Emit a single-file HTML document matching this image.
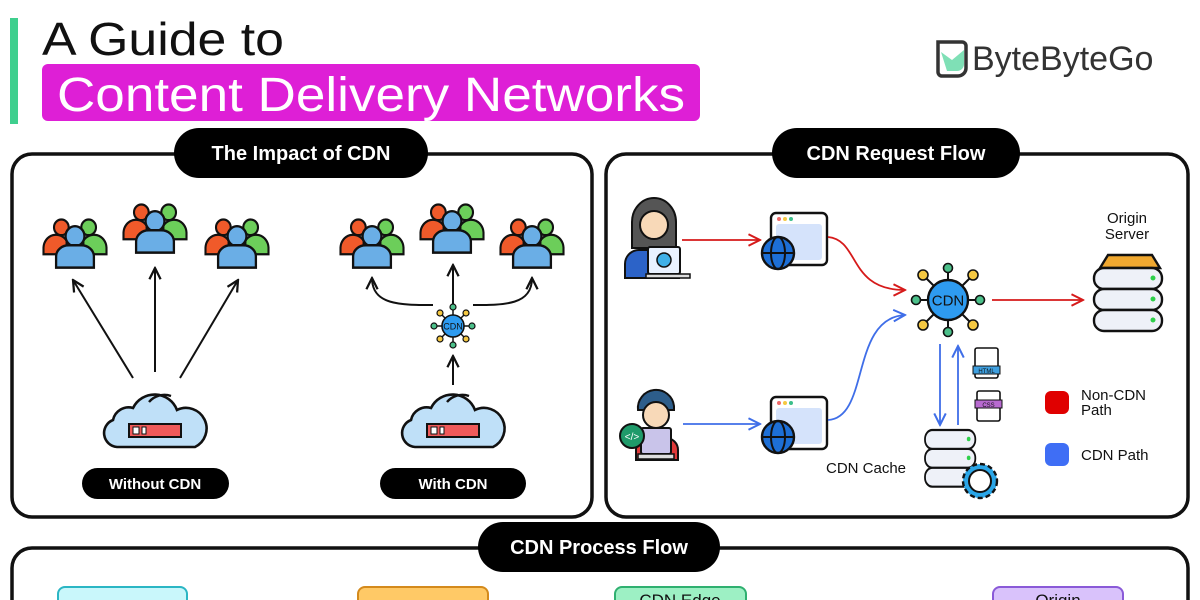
<!DOCTYPE html>
<html><head><meta charset="utf-8"><style>
html,body{margin:0;padding:0;background:#fff;}
svg{display:block;font-family:"Liberation Sans",sans-serif;}
</style></head><body>
<svg width="1200" height="600" viewBox="0 0 1200 600" xmlns="http://www.w3.org/2000/svg">
<defs>
<marker id="ak" viewBox="0 0 10 10" refX="9" refY="5" markerWidth="7" markerHeight="7" orient="auto"><path d="M1,1 L9,5 L1,9" fill="none" stroke="#111" stroke-width="1.6"/></marker>
<marker id="ar" viewBox="0 0 10 10" refX="9" refY="5" markerWidth="8" markerHeight="8" orient="auto"><path d="M1,1 L9,5 L1,9" fill="none" stroke="#d61a1a" stroke-width="1.4"/></marker>
<marker id="ab" viewBox="0 0 10 10" refX="9" refY="5" markerWidth="8" markerHeight="8" orient="auto"><path d="M1,1 L9,5 L1,9" fill="none" stroke="#3f6ee8" stroke-width="1.4"/></marker>
<g id="people0">
<circle cx="-13" cy="-14" r="7" fill="#f05a2a" stroke="#111" stroke-width="2"/>
<circle cx="13" cy="-14" r="7" fill="#6cce5a" stroke="#111" stroke-width="2"/>
<path d="M-30,10 v-6 a12,12 0 0 1 22,-6 v12z" fill="#f05a2a" stroke="#111" stroke-width="2"/>
<path d="M30,10 v-6 a12,12 0 0 0 -22,-6 v12z" fill="#6cce5a" stroke="#111" stroke-width="2"/>
<circle cx="0" cy="-6" r="9" fill="#6aaee6" stroke="#111" stroke-width="2.2"/>
<path d="M-18,22 v-10 a12,10 0 0 1 12,-10 h12 a12,10 0 0 1 12,10 v10z" fill="#6aaee6" stroke="#111" stroke-width="2.2"/>
</g>
<g id="people"><g transform="scale(1.05,1.12)"><use href="#people0"/></g></g>
<g id="cloud">
<path d="M-38,25 a14,14 0 0 1 -4,-27 a16,16 0 0 1 20,-12 a24,24 0 0 1 44,2 a18,18 0 0 1 18,37z" fill="#bfe0f8" stroke="#111" stroke-width="2.6"/>
<path d="M-6,-20 a20,20 0 0 1 22,-6" fill="none" stroke="#111" stroke-width="2.4"/>
<rect x="-26" y="2" width="52" height="13" fill="#f05a5a" stroke="#111" stroke-width="2"/>
<rect x="-22" y="5" width="6" height="7" fill="#fff" stroke="#111" stroke-width="1"/>
<rect x="-13" y="5" width="4" height="7" fill="#fff" stroke="#111" stroke-width="1"/>
</g>
<g id="hubS">
<g stroke="#111" stroke-width="1.5">
<line x1="0" y1="0" x2="0" y2="-19"/><line x1="0" y1="0" x2="0" y2="19"/><line x1="0" y1="0" x2="-19" y2="0"/><line x1="0" y1="0" x2="19" y2="0"/>
<line x1="0" y1="0" x2="-13" y2="-13"/><line x1="0" y1="0" x2="13" y2="-13"/><line x1="0" y1="0" x2="-13" y2="13"/><line x1="0" y1="0" x2="13" y2="13"/></g>
<g stroke="#111" stroke-width="1.2">
<circle cx="0" cy="-19" r="3" fill="#4cc08a"/><circle cx="0" cy="19" r="3" fill="#4cc08a"/><circle cx="-19" cy="0" r="3" fill="#4cc08a"/><circle cx="19" cy="0" r="3" fill="#4cc08a"/>
<circle cx="-13" cy="-13" r="3" fill="#f5c842"/><circle cx="13" cy="-13" r="3" fill="#f5c842"/><circle cx="-13" cy="13" r="3" fill="#f5c842"/><circle cx="13" cy="13" r="3" fill="#f5c842"/></g>
<circle r="11" fill="#2e9bf0" stroke="#111" stroke-width="1.6"/>
<text y="3.5" text-anchor="middle" font-size="9" fill="#111">CDN</text>
</g>
<g id="browser">
<rect x="0" y="0" width="56" height="52" rx="5" fill="#fff" stroke="#111" stroke-width="2.4"/>
<rect x="5" y="11" width="46" height="36" rx="3" fill="#d5e3fb"/>
<circle cx="8" cy="6" r="2" fill="#f06a6a"/><circle cx="14" cy="6" r="2" fill="#f5c842"/><circle cx="20" cy="6" r="2" fill="#3cbf8a"/>
<circle cx="7" cy="40" r="16" fill="#1d6fd6" stroke="#111" stroke-width="2.4"/>
<ellipse cx="7" cy="40" rx="7" ry="16" fill="none" stroke="#111" stroke-width="2"/>
<line x1="-9" y1="40" x2="23" y2="40" stroke="#111" stroke-width="2"/>
</g>
<g id="server">
<rect x="0" y="0" width="68" height="21" rx="10" fill="#eef1f8" stroke="#111" stroke-width="2.4"/>
<rect x="0" y="21" width="68" height="21" rx="10" fill="#eef1f8" stroke="#111" stroke-width="2.4"/>
<rect x="0" y="42" width="68" height="21" rx="10" fill="#eef1f8" stroke="#111" stroke-width="2.4"/>
<circle cx="59" cy="10" r="2.5" fill="#2ed04a"/><circle cx="59" cy="31" r="2.5" fill="#2ed04a"/><circle cx="59" cy="52" r="2.5" fill="#2ed04a"/>
</g>
</defs>

<!-- header -->
<rect x="10" y="18" width="8" height="106" fill="#3fcf8e"/>
<text x="42" y="55" font-size="46" fill="#111" textLength="242" lengthAdjust="spacingAndGlyphs">A Guide to</text>
<rect x="42" y="64" width="658" height="57" rx="6" fill="#de1fd6"/>
<text x="57" y="111" font-size="48" fill="#fff" textLength="628" lengthAdjust="spacingAndGlyphs">Content Delivery Networks</text>
<!-- logo -->
<path d="M938,42 h24 a4,4 0 0 1 4,4 v22 a8,8 0 0 1 -8,8 h-16 a4,4 0 0 1 -4,-4 z" fill="#fff" stroke="#333" stroke-width="3.5"/>
<path d="M941,52 l11,8 l12,-10 v14 a7,7 0 0 1 -7,7 h-10 z" fill="#7fe0b6"/>
<text x="972" y="70" font-size="34" fill="#333">ByteByteGo</text>

<!-- panels -->
<rect x="12" y="154" width="580" height="363" rx="20" fill="none" stroke="#111" stroke-width="3.5"/>
<rect x="606" y="154" width="582" height="363" rx="20" fill="none" stroke="#111" stroke-width="3.5"/>
<rect x="12" y="548" width="1176" height="80" rx="20" fill="none" stroke="#111" stroke-width="3.5"/>
<rect x="174" y="128" width="254" height="50" rx="25" fill="#000"/>
<text x="301" y="160" font-size="20" font-weight="bold" fill="#fff" text-anchor="middle">The Impact of CDN</text>
<rect x="772" y="128" width="248" height="50" rx="25" fill="#000"/>
<text x="896" y="160" font-size="20" font-weight="bold" fill="#fff" text-anchor="middle">CDN Request Flow</text>
<rect x="478" y="522" width="242" height="50" rx="25" fill="#000"/>
<text x="599" y="554" font-size="20" font-weight="bold" fill="#fff" text-anchor="middle">CDN Process Flow</text>

<!-- left panel -->
<use href="#people" x="75" y="243"/><use href="#people" x="155" y="228"/><use href="#people" x="237" y="243"/>
<use href="#people" x="372" y="243"/><use href="#people" x="452" y="228"/><use href="#people" x="532" y="243"/>
<g stroke="#111" stroke-width="2" fill="none" marker-end="url(#ak)">
<line x1="133" y1="378" x2="73" y2="280"/><line x1="155" y1="372" x2="155" y2="268"/><line x1="180" y1="378" x2="238" y2="280"/>
<line x1="453" y1="385" x2="453" y2="356"/><line x1="453" y1="305" x2="453" y2="265"/>
<path d="M433,305 C400,305 372,305 372,278"/><path d="M473,305 C505,305 532,305 532,278"/>
</g>
<use href="#cloud" x="155" y="422"/><use href="#cloud" x="453" y="422"/>
<use href="#hubS" x="453" y="326"/>
<rect x="82" y="468" width="147" height="31" rx="15.5" fill="#000"/>
<text x="155" y="489" font-size="15" font-weight="bold" fill="#fff" text-anchor="middle">Without CDN</text>
<rect x="380" y="468" width="146" height="31" rx="15.5" fill="#000"/>
<text x="453" y="489" font-size="15" font-weight="bold" fill="#fff" text-anchor="middle">With CDN</text>

<!-- right panel: users -->
<g>
<path d="M632,222 a22,24 0 0 1 44,0 v26 h-44z" fill="#555" stroke="#111" stroke-width="2"/>
<circle cx="654" cy="225" r="14" fill="#f8d9b8" stroke="#111" stroke-width="2"/>
<path d="M625,278 v-14 a14,14 0 0 1 14,-14 h30 a14,14 0 0 1 10,10 v18z" fill="#2c63c8" stroke="#111" stroke-width="2"/>
<rect x="648" y="247" width="32" height="27" rx="2" fill="#eaf2ff" stroke="#111" stroke-width="2"/>
<circle cx="664" cy="260" r="7" fill="#3fb0e8" stroke="#111" stroke-width="1.5"/>
<rect x="646" y="274" width="44" height="4" fill="#ddd" stroke="#111" stroke-width="1.5"/>
</g>
<g>
<path d="M638,410 a18,18 0 0 1 36,-4 v4z" fill="#2d5d8a" stroke="#111" stroke-width="2"/>
<circle cx="656" cy="415" r="13" fill="#f8d9b8" stroke="#111" stroke-width="2"/>
<path d="M636,460 v-10 a12,12 0 0 1 12,-12 h18 a12,12 0 0 1 12,12 v10z" fill="#e03a3a" stroke="#111" stroke-width="2"/>
<rect x="641" y="428" width="30" height="26" rx="2" fill="#c9c4ea" stroke="#111" stroke-width="2"/>
<rect x="638" y="454" width="36" height="5" fill="#ddd" stroke="#111" stroke-width="1.5"/>
<circle cx="632" cy="436" r="12" fill="#1f9a6a" stroke="#111" stroke-width="2"/>
<text x="632" y="440" font-size="10" fill="#fff" text-anchor="middle">&lt;/&gt;</text>
</g>
<use href="#browser" x="771" y="213"/><use href="#browser" x="771" y="397"/>
<g fill="none" stroke-width="1.8">
<line x1="682" y1="240" x2="760" y2="240" stroke="#d61a1a" marker-end="url(#ar)"/>
<path d="M828,237 C860,240 848,290 905,290" stroke="#d61a1a" marker-end="url(#ar)"/>
<line x1="992" y1="300" x2="1083" y2="300" stroke="#d61a1a" marker-end="url(#ar)"/>
<line x1="683" y1="424" x2="760" y2="424" stroke="#3f6ee8" marker-end="url(#ab)"/>
<path d="M828,420 C870,418 850,318 905,315" stroke="#3f6ee8" marker-end="url(#ab)"/>
<line x1="940" y1="344" x2="940" y2="425" stroke="#3f6ee8" marker-end="url(#ab)"/>
<line x1="958" y1="425" x2="958" y2="346" stroke="#3f6ee8" marker-end="url(#ab)"/>
</g>
<!-- big CDN hub -->
<g transform="translate(948,300)">
<g stroke="#111" stroke-width="2">
<line x1="0" y1="0" x2="0" y2="-32"/><line x1="0" y1="0" x2="0" y2="32"/><line x1="0" y1="0" x2="-32" y2="0"/><line x1="0" y1="0" x2="32" y2="0"/>
<line x1="0" y1="0" x2="-25" y2="-25"/><line x1="0" y1="0" x2="25" y2="-25"/><line x1="0" y1="0" x2="-25" y2="25"/><line x1="0" y1="0" x2="25" y2="25"/></g>
<g stroke="#111" stroke-width="1.6">
<circle cx="0" cy="-32" r="4.5" fill="#4cc08a"/><circle cx="0" cy="32" r="4.5" fill="#4cc08a"/><circle cx="-32" cy="0" r="4.5" fill="#4cc08a"/><circle cx="32" cy="0" r="4.5" fill="#4cc08a"/>
<circle cx="-25" cy="-25" r="5" fill="#f5c842"/><circle cx="25" cy="-25" r="5" fill="#f5c842"/><circle cx="-25" cy="25" r="5" fill="#f5c842"/><circle cx="25" cy="25" r="5" fill="#f5c842"/></g>
<circle r="20" fill="#2e9bf0" stroke="#111" stroke-width="2.4"/>
<text y="5.5" text-anchor="middle" font-size="15" fill="#111">CDN</text>
</g>
<!-- origin server -->
<path d="M1100,268 l8,-13 h44 l8,13z" fill="#f0a830" stroke="#111" stroke-width="2.4"/>
<use href="#server" x="1094" y="268"/>
<text x="1127" y="223" font-size="15" fill="#111" text-anchor="middle">Origin</text>
<text x="1127" y="239" font-size="15" fill="#111" text-anchor="middle">Server</text>
<!-- docs -->
<rect x="975" y="348" width="23" height="30" rx="2" fill="#fff" stroke="#111" stroke-width="1.6"/>
<rect x="973" y="366" width="27" height="8" fill="#3fa0e0" stroke="#111" stroke-width="1"/>
<text x="986.5" y="373" font-size="6" text-anchor="middle" fill="#111">HTML</text>
<rect x="977" y="391" width="23" height="30" rx="2" fill="#fff" stroke="#111" stroke-width="1.6"/>
<rect x="975" y="400" width="27" height="8" fill="#b86ad0" stroke="#111" stroke-width="1"/>
<text x="988.5" y="407" font-size="6" text-anchor="middle" fill="#111">CSS</text>
<!-- cache -->
<g transform="translate(925,430) scale(0.74,0.9)"><use href="#server"/></g>
<circle cx="980" cy="481" r="17" fill="#2aa6e8" stroke="#111" stroke-width="2.4" stroke-dasharray="5 3"/>
<circle cx="980" cy="481" r="11" fill="#fff" stroke="#111" stroke-width="2"/>
<text x="826" y="473" font-size="15" fill="#111">CDN Cache</text>
<!-- legend -->
<rect x="1045" y="391" width="24" height="23" rx="6" fill="#e00000"/>
<text x="1081" y="400" font-size="15" fill="#111">Non-CDN</text>
<text x="1081" y="415" font-size="15" fill="#111">Path</text>
<rect x="1045" y="443" width="24" height="23" rx="6" fill="#3f6ef5"/>
<text x="1081" y="460" font-size="15" fill="#111">CDN Path</text>

<!-- bottom boxes -->
<rect x="58" y="587" width="129" height="40" rx="7" fill="#c9f7fb" stroke="#2bb6c4" stroke-width="2"/>
<rect x="358" y="587" width="130" height="40" rx="7" fill="#ffc966" stroke="#d48a1c" stroke-width="2"/>
<rect x="615" y="587" width="131" height="40" rx="7" fill="#9df0c4" stroke="#2fb070" stroke-width="2"/>
<text x="680" y="606" font-size="17" fill="#111" text-anchor="middle">CDN Edge</text>
<rect x="993" y="587" width="130" height="40" rx="7" fill="#d9c2fb" stroke="#8a5ad8" stroke-width="2"/>
<text x="1058" y="606" font-size="17" fill="#111" text-anchor="middle">Origin</text>
</svg>
</body></html>
